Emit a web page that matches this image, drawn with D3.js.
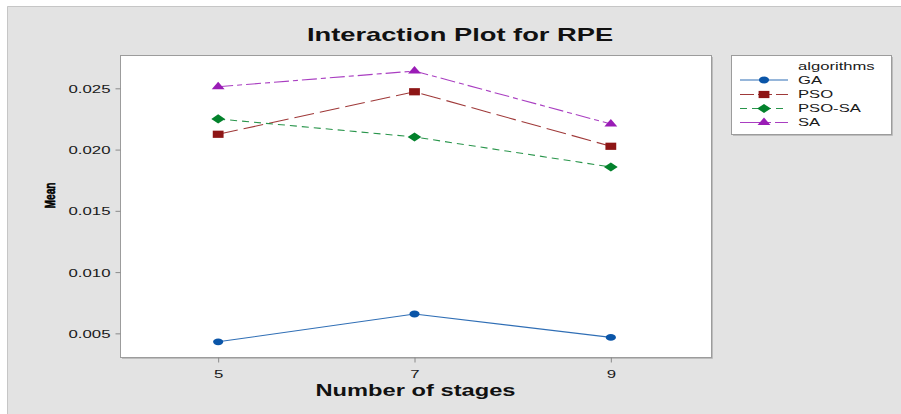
<!DOCTYPE html>
<html>
<head>
<meta charset="utf-8">
<script src="https://cdn.jsdelivr.net/npm/d3@7"></script>
<style>
  html, body { margin: 0; padding: 0; background: #ffffff; }
  svg { display: block; font-family: "Liberation Sans", Arial, sans-serif; }
</style>
</head>
<body>
<svg id="chart" width="901" height="414"></svg>
<script>
// Interaction plot: mean RPE by number of stages for each algorithm
const stages = [5, 7, 9];
const algorithms = ["GA", "PSO", "PSO-SA", "SA"];
const gaMeans    = [0.00431, 0.00658, 0.00467];
const psoMeans   = [0.02125, 0.02472, 0.02027];
const psosaMeans = [0.02250, 0.02103, 0.01858];
const saMeans    = [0.02513, 0.02641, 0.02209];
const yTicks = [0.005, 0.010, 0.015, 0.020, 0.025];
const yTickLabels = ["0.005", "0.010", "0.015", "0.020", "0.025"];
const xTickLabels = ["5", "7", "9"];

const seriesValues = [gaMeans, psoMeans, psosaMeans, saMeans];
const colors = ["#0a55a8", "#8e1616", "#03822c", "#9a1cb6"];
const dashes = [null, "20,6", "7,5", "15,4,5,4"];
const legendDashes = [null, "14,4", "7,5", "22,4,5,4"];
const symbolKind = ["circle", "square", "diamond", "triangle"];

// horizontal stretch applied to glyphs and markers
const SX = 1.5;

const svg = d3.select("#chart");

// outer panel
svg.append("rect").attr("x", 7).attr("y", 6).attr("width", 894).attr("height", 408)
  .attr("fill", "#e3e3e3");
svg.append("path").attr("d", "M7.5,414V6.5H901").attr("fill", "none")
  .attr("stroke", "#c6c6c6").attr("stroke-width", 1);

const plot = { left: 120, right: 711, top: 55, bottom: 357 };

const x = d3.scaleLinear().domain([4, 10]).range([plot.left, plot.right - 2]);
const y = d3.scaleLinear().domain([0.00307, 0.02772]).range([plot.bottom, plot.top]);

function stretchedText(parent, px, py, str, opts) {
  const sx = opts.sx || SX, sy = opts.sy || 1;
  const t = parent.append("text")
    .attr("transform", `translate(${px},${py}) scale(${sx},${sy})` + (opts.rotate ? ` rotate(${opts.rotate})` : ""))
    .attr("text-anchor", opts.anchor || "start")
    .attr("font-size", opts.size)
    .attr("font-weight", opts.weight || "normal")
    .attr("fill", opts.fill || "#111")
    .text(str);
  if (opts.baseline) t.attr("dominant-baseline", opts.baseline);
  if (opts.stroke) t.attr("stroke", opts.fill || "#111").attr("stroke-width", opts.stroke);
  return t;
}

// title
stretchedText(svg, 460, 41, "Interaction Plot for RPE", { anchor: "middle", size: 18.2, weight: "bold" });

// plot area
svg.append("rect").attr("x", plot.left + 0.5).attr("y", plot.top + 0.5)
  .attr("width", plot.right - plot.left).attr("height", plot.bottom - plot.top)
  .attr("fill", "#ffffff").attr("stroke", "#9c9c9c").attr("stroke-width", 1);
svg.append("path")
  .attr("d", `M${plot.right + 1.5},${plot.top + 2}V${plot.bottom + 1.5}H${plot.left + 2}`)
  .attr("fill", "none").attr("stroke", "#bdbdbd").attr("stroke-width", 1);

// y axis
const yAxis = d3.axisLeft(y).tickValues(yTicks).tickFormat((d, i) => yTickLabels[i])
  .tickSize(5).tickSizeOuter(0);
const gy = svg.append("g").attr("transform", `translate(${plot.left + 0.5},0)`).call(yAxis);
gy.select(".domain").remove();
gy.selectAll(".tick line").attr("stroke", "#8a8a8a");
gy.selectAll(".tick text").remove();
gy.selectAll(".tick").each(function(d, i) {
  stretchedText(d3.select(this), -10, 0, yTickLabels[i], { anchor: "end", size: 11.2, baseline: "central", fill: "#1a1a1a" });
});

// x axis
const xAxis = d3.axisBottom(x).tickValues(stages).tickFormat((d, i) => xTickLabels[i])
  .tickSize(5).tickSizeOuter(0);
const gx = svg.append("g").attr("transform", `translate(0,${plot.bottom + 0.5})`).call(xAxis);
gx.select(".domain").remove();
gx.selectAll(".tick line").attr("stroke", "#8a8a8a");
gx.selectAll(".tick text").remove();
gx.selectAll(".tick").each(function(d, i) {
  stretchedText(d3.select(this), 0, 20, xTickLabels[i], { anchor: "middle", size: 11.2, fill: "#1a1a1a" });
});

// axis titles
stretchedText(svg, (plot.left + plot.right) / 2, 396, "Number of stages", { anchor: "middle", size: 15.8, weight: "bold" });
stretchedText(svg, 54.5, 195.5, "Mean", { anchor: "middle", size: 13, weight: "bold", rotate: -90, sx: 1.1, sy: 0.78, fill: "#000", stroke: 0.5 });

// markers
const symbolPath = {
  circle: d3.symbol().type(d3.symbolCircle).size(36)(),
  square: d3.symbol().type(d3.symbolSquare).size(52)(),
  diamond: d3.symbol().type(d3.symbolSquare).size(42)(),
  triangle: d3.symbol().type(d3.symbolTriangle).size(32)()
};
function markerTransform(kind, px, py) {
  let t = `translate(${px},${py}) scale(${SX},1)`;
  if (kind === "diamond") t += " rotate(45)";
  return t;
}

const line = d3.line().x((d, i) => x(stages[i])).y(d => y(d));

seriesValues.forEach((vals, s) => {
  const g = svg.append("g");
  g.append("path").datum(vals).attr("d", line)
    .attr("fill", "none").attr("stroke", colors[s]).attr("stroke-width", 1.1)
    .attr("stroke-opacity", 0.85)
    .attr("stroke-dasharray", dashes[s]);
  g.selectAll("path.mark").data(vals).join("path").attr("class", "mark")
    .attr("d", symbolPath[symbolKind[s]])
    .attr("transform", (d, i) => markerTransform(symbolKind[s], x(stages[i]), y(d)))
    .attr("fill", colors[s]);
});

// legend
const lg = { left: 731, top: 55, width: 160, height: 79 };
svg.append("rect").attr("x", lg.left + 0.5).attr("y", lg.top + 0.5)
  .attr("width", lg.width).attr("height", lg.height)
  .attr("fill", "#ffffff").attr("stroke", "#9c9c9c");
svg.append("path")
  .attr("d", `M${lg.left + lg.width + 1.5},${lg.top + 2}V${lg.top + lg.height + 1.5}H${lg.left + 2}`)
  .attr("fill", "none").attr("stroke", "#bdbdbd");
stretchedText(svg, 798, 70, "algorithms", { size: 11.1, fill: "#1a1a1a" });
const rowY = [80, 94.5, 108.5, 122.5];
algorithms.forEach((name, s) => {
  const yy = rowY[s];
  svg.append("line").attr("x1", 740).attr("x2", 788).attr("y1", yy).attr("y2", yy)
    .attr("stroke", colors[s]).attr("stroke-width", 1.1).attr("stroke-opacity", 0.85)
    .attr("stroke-dasharray", legendDashes[s]);
  svg.append("path").attr("d", symbolPath[symbolKind[s]])
    .attr("transform", markerTransform(symbolKind[s], 764, yy))
    .attr("fill", colors[s]);
  stretchedText(svg, 798, yy, name, { size: 11.1, baseline: "central", fill: "#1a1a1a" });
});
</script>
</body>
</html>
